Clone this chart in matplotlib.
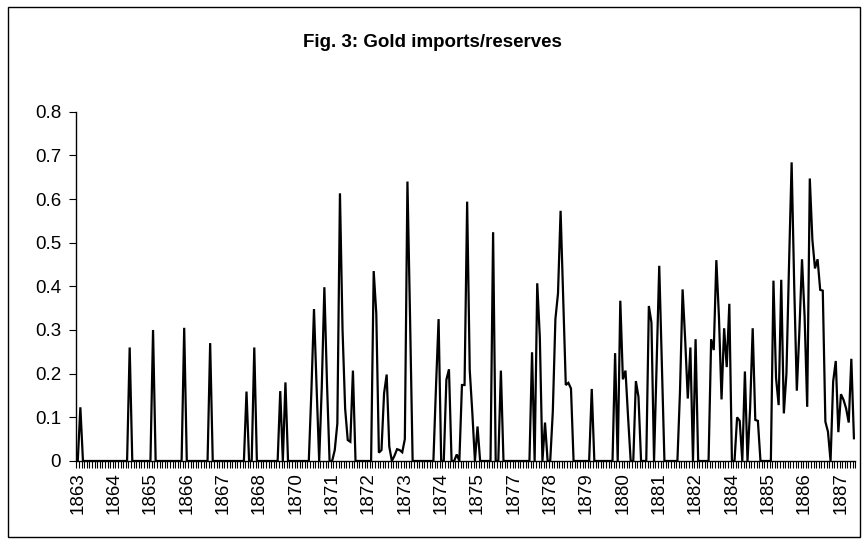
import matplotlib
matplotlib.use("Agg")
import matplotlib.pyplot as plt
from matplotlib.patches import Rectangle

# monthly gold imports / reserves ratio, Jan 1863 - Dec 1887
years = list(range(1863, 1888))
ratio_by_year = [
    [0, 0.123, 0, 0, 0, 0, 0, 0, 0, 0, 0, 0],                                   # 1863
    [0, 0, 0, 0, 0, 0, 0, 0, 0.26, 0, 0, 0],                                    # 1864
    [0, 0, 0, 0, 0, 0.30, 0, 0, 0, 0, 0, 0],                                    # 1865
    [0, 0, 0, 0, 0, 0.305, 0, 0, 0, 0, 0, 0],                                   # 1866
    [0, 0, 0, 0.27, 0, 0, 0, 0, 0, 0, 0, 0],                                    # 1867
    [0, 0, 0, 0, 0, 0.159, 0, 0, 0.26, 0, 0, 0],                                # 1868
    [0, 0, 0, 0, 0, 0, 0.16, 0, 0.18, 0, 0, 0],                                 # 1869
    [0, 0, 0, 0, 0, 0, 0.16, 0.348, 0.17, 0, 0.17, 0.398],                      # 1870
    [0.18, 0, 0, 0.025, 0.086, 0.613, 0.30, 0.12, 0.048, 0.044, 0.207, 0],      # 1871
    [0, 0, 0, 0, 0, 0, 0.435, 0.338, 0.019, 0.025, 0.155, 0.198],               # 1872
    [0.033, 0, 0.012, 0.027, 0.025, 0.02, 0.05, 0.64, 0.33, 0, 0, 0],           # 1873
    [0, 0, 0, 0, 0, 0, 0.17, 0.325, 0, 0, 0.186, 0.21],                         # 1874
    [0, 0, 0.015, 0, 0.174, 0.174, 0.594, 0.208, 0.11, 0, 0.079, 0],            # 1875
    [0, 0, 0, 0, 0.524, 0, 0, 0.207, 0, 0, 0, 0],                               # 1876
    [0, 0, 0, 0, 0, 0, 0, 0.249, 0, 0.407, 0.283, 0],                           # 1877
    [0.088, 0, 0, 0.113, 0.325, 0.384, 0.573, 0.37, 0.174, 0.179, 0.166, 0],    # 1878
    [0, 0, 0, 0, 0, 0, 0.165, 0, 0, 0, 0, 0],                                   # 1879
    [0, 0, 0, 0.247, 0, 0.367, 0.187, 0.207, 0.10, 0, 0, 0.183],                # 1880
    [0.147, 0, 0, 0, 0.355, 0.317, 0, 0.22, 0.447, 0.22, 0, 0],                 # 1881
    [0, 0, 0, 0, 0.16, 0.393, 0.277, 0.143, 0.26, 0, 0.279, 0],                 # 1882
    [0, 0, 0, 0, 0.279, 0.254, 0.46, 0.33, 0.141, 0.304, 0.215, 0.36],          # 1883
    [0, 0, 0.10, 0.092, 0, 0.205, 0, 0.12, 0.304, 0.094, 0.092, 0],             # 1884
    [0, 0, 0, 0, 0.413, 0.19, 0.128, 0.415, 0.109, 0.2, 0.45, 0.684],           # 1885
    [0.40, 0.161, 0.3, 0.462, 0.33, 0.124, 0.647, 0.506, 0.441, 0.462, 0.392, 0.39],  # 1886
    [0.09, 0.067, 0, 0.182, 0.229, 0.066, 0.153, 0.14, 0.12, 0.088, 0.234, 0.052],    # 1887
]
label_every = 14  # excel shows a category label every 14 months

values = [v for row in ratio_by_year for v in row]
month_years = [y for y in years for _ in range(12)]
x = list(range(len(values)))

plt.rcParams['font.family'] = ['Liberation Sans', 'DejaVu Sans']

fig = plt.figure(figsize=(8.65, 5.44), dpi=100)
ax = fig.add_axes([0.0884, 0.1526, 0.9003, 0.6421])

ax.plot(x, values, color='black', linewidth=1.6, solid_joinstyle='miter')

ax.set_xlim(-0.5, len(values) - 0.5)
ax.set_ylim(0, 0.8)
ax.set_yticks([i / 10 for i in range(9)])
ax.set_yticklabels(['0'] + [f"{i / 10:.1f}" for i in range(1, 9)])

# a tick mark on every month, a label every 14th one
ax.set_xticks([i - 0.5 for i in range(len(values) + 1)], minor=True)
ax.set_xticks(x[::label_every])
ax.set_xticklabels([str(month_years[i]) for i in x[::label_every]], rotation=90)
ax.tick_params(axis='x', which='major', length=0, pad=8, labelsize=13.5)
ax.tick_params(axis='x', which='minor', length=5, width=0.8, direction='out')
ax.tick_params(axis='y', length=5, width=0.8, direction='out', labelsize=13.5, pad=6)

for side in ('top', 'right'):
    ax.spines[side].set_visible(False)
for side in ('left', 'bottom'):
    ax.spines[side].set_linewidth(1.0)

fig.text(0.5, 0.921, "Fig. 3: Gold imports/reserves", ha='center', va='center',
         fontsize=13.5, fontweight='bold')

# chart area border
fig.patches.append(Rectangle((8 / 865, 7 / 544), 852 / 865, 530 / 544,
                             transform=fig.transFigure, fill=False,
                             edgecolor='black', linewidth=1.0))

fig.savefig("out.png", dpi=100)
